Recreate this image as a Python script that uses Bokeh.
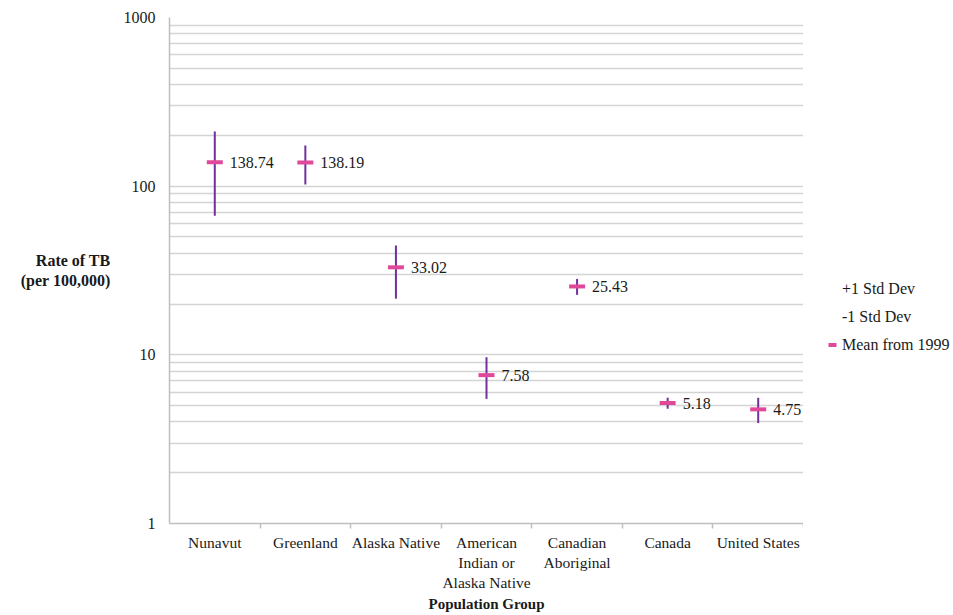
from bokeh.plotting import figure
from bokeh.layouts import row
from bokeh.models import (ColumnDataSource, Range1d, FixedTicker, LabelSet,
                          Legend, LegendItem)
from bokeh.core.properties import value
from bokeh.embed import file_html
from bokeh.resources import INLINE

# Tuberculosis rates per 100,000 by population group
groups = ["Nunavut", "Greenland", "Alaska Native",
          "American\nIndian or\nAlaska Native", "Canadian\nAboriginal",
          "Canada", "United States"]
mean_rate = [138.74, 138.19, 33.02, 7.58, 25.43, 5.18, 4.75]
std_dev = [72.0, 36.0, 11.5, 2.1, 2.75, 0.39, 0.81]
y_ticks = [1, 10, 100, 1000]

FONT = "Liberation Serif"
PINK = "#e0489a"
PURPLE = "#7030a0"
GRID = "#d4d4d4"
TEXT = "#1a1a1a"

pos = [i + 0.5 for i in range(len(groups))]
upper = [m + s for m, s in zip(mean_rate, std_dev)]
lower = [m - s for m, s in zip(mean_rate, std_dev)]

src = ColumnDataSource(dict(
    x=pos, mean=mean_rate, upper=upper, lower=lower,
    label=[f"{m:.2f}" for m in mean_rate],
))

p = figure(width=803, height=615, y_axis_type="log",
           x_range=Range1d(0, len(groups)), y_range=Range1d(1, 1000),
           output_backend="svg", toolbar_location=None,
           min_border_left=169, min_border_right=0,
           min_border_top=17, min_border_bottom=92)
p.outline_line_color = None
p.background_fill_color = "white"

# y axis: decades with minor lines at 2..9
minor = [k * 10 ** d for d in range(3) for k in range(2, 10)]
p.yaxis.ticker = FixedTicker(ticks=y_ticks, minor_ticks=minor)
p.yaxis.major_label_overrides = {t: str(t) for t in y_ticks}
p.yaxis.major_tick_out = 0
p.yaxis.major_tick_in = 0
p.yaxis.minor_tick_out = 0
p.yaxis.minor_tick_in = 0
p.yaxis.axis_line_color = "#bfbfbf"
p.yaxis.axis_line_width = 1.5
p.yaxis.major_label_text_font = FONT
p.yaxis.major_label_text_font_size = "16px"
p.yaxis.major_label_text_color = TEXT
p.yaxis.major_label_standoff = 14
p.yaxis.axis_label = "Rate of TB\n(per 100,000)"
p.yaxis.axis_label_orientation = "horizontal"
p.yaxis.axis_label_text_font = FONT
p.yaxis.axis_label_text_font_style = "bold"
p.yaxis.axis_label_text_font_size = "16px"
p.yaxis.axis_label_text_color = TEXT
p.yaxis.axis_label_standoff = 10

p.ygrid.grid_line_color = GRID
p.ygrid.grid_line_width = 1.5
p.ygrid.minor_grid_line_color = GRID
p.ygrid.minor_grid_line_width = 1.5
p.xgrid.grid_line_color = None

# x axis: group names centred, tick marks on category boundaries
p.xaxis.ticker = FixedTicker(ticks=pos,
                             minor_ticks=list(range(1, len(groups) + 1)))
p.xaxis.major_label_overrides = {x: g for x, g in zip(pos, groups)}
p.xaxis.major_tick_out = 0
p.xaxis.major_tick_in = 0
p.xaxis.minor_tick_out = 5
p.xaxis.minor_tick_in = 0
p.xaxis.minor_tick_line_color = "#bfbfbf"
p.xaxis.minor_tick_line_width = 1.5
p.xaxis.axis_line_color = "#bfbfbf"
p.xaxis.axis_line_width = 1.5
p.xaxis.major_label_text_font = FONT
p.xaxis.major_label_text_font_size = "15.5px"
p.xaxis.major_label_text_color = TEXT
p.xaxis.major_label_standoff = 5
p.xaxis.axis_label = "Population Group"
p.xaxis.axis_label_text_font = FONT
p.xaxis.axis_label_text_font_style = "bold"
p.xaxis.axis_label_text_font_size = "15px"
p.xaxis.axis_label_text_color = TEXT
p.xaxis.axis_label_standoff = 2

# +/- 1 standard deviation bars
p.segment(x0="x", y0="lower", x1="x", y1="upper", source=src,
          line_color=PURPLE, line_width=2)

# mean markers
p.scatter(x="x", y="mean", source=src, marker="dash", size=16,
          line_color=PINK, line_width=4)

labels = LabelSet(x="x", y="mean", text="label", source=src,
                  x_offset=15, text_baseline="middle", text_align="left",
                  text_font=value(FONT), text_font_size="16px",
                  text_color=TEXT)
p.add_layout(labels)

# legend panel to the right of the chart; its x range lies away from the
# data so the key renderers contribute only their legend glyphs
leg = figure(width=150, height=615, x_range=Range1d(-2, -1),
             y_range=Range1d(1, 1000), y_axis_type="log",
             output_backend="svg", toolbar_location=None,
             x_axis_location=None, y_axis_location=None, min_border=0)
leg.outline_line_color = None
leg.grid.grid_line_color = None
hi = leg.scatter(x="x", y="upper", source=src, size=1, alpha=0)
lo = leg.scatter(x="x", y="lower", source=src, size=1, alpha=0)
mean_key = leg.scatter(x="x", y="mean", source=src, marker="dash", size=16,
                       line_color=PINK, line_width=4)

legend = Legend(items=[
    LegendItem(label="+1 Std Dev", renderers=[hi]),
    LegendItem(label="-1 Std Dev", renderers=[lo]),
    LegendItem(label="Mean from 1999", renderers=[mean_key]),
], location=(19, 166), orientation="vertical",
    glyph_width=20, glyph_height=25, spacing=3, label_standoff=0,
    padding=0, margin=0, border_line_alpha=0, background_fill_alpha=0,
    label_text_font=FONT, label_text_font_size="16px",
    label_text_color=TEXT)
leg.add_layout(legend)

open("out.html", "w").write(file_html(row(p, leg), INLINE))
